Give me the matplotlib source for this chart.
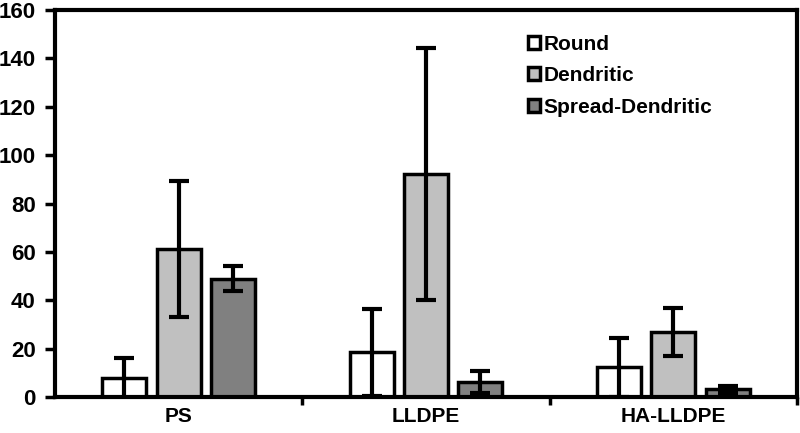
import numpy as np
import matplotlib.pyplot as plt

plt.rcParams['font.family'] = ['Liberation Sans', 'DejaVu Sans']
plt.rcParams['font.weight'] = 'bold'

categories = ['PS', 'LLDPE', 'HA-LLDPE']
series = ['Round', 'Dendritic', 'Spread-Dendritic']
round_vals = [7.8, 18.5, 12.3]
round_err = [8.3, 17.9, 12.1]
dendritic_vals = [61.2, 92.3, 27.0]
dendritic_err = [28.2, 52.0, 10.0]
spread_vals = [49.0, 6.3, 3.2]
spread_err = [5.2, 4.5, 1.4]
colors = ['#ffffff', '#c0c0c0', '#808080']

fig = plt.figure(figsize=(8, 4.33), dpi=100)
ax = fig.add_axes([0.069, 0.083, 0.927, 0.894])

x = np.arange(len(categories))
w = 0.178
step = 0.22
vals = [round_vals, dendritic_vals, spread_vals]
errs = [round_err, dendritic_err, spread_err]
for i in range(3):
	ax.bar(x + (i - 1) * step, vals[i], w, color=colors[i], edgecolor='black',
		linewidth=2.5, label=series[i], zorder=2,
		yerr=errs[i], error_kw=dict(ecolor='black', elinewidth=3, capsize=7, capthick=3, zorder=3))

ax.set_xlim(-0.5, 2.5)
ax.set_ylim(0, 160)
ax.set_yticks(range(0, 161, 20))
ax.set_xticks(x)
ax.set_xticklabels(categories)
ax.set_xticks([0.5, 1.5, 2.5], minor=True)
ax.tick_params(axis='x', which='major', length=0, pad=7, labelsize=15)
ax.tick_params(axis='x', which='minor', length=6, width=2.5, direction='out')
ax.tick_params(axis='y', length=7, width=2.5, labelsize=16, pad=7)
for s in ax.spines.values():
	s.set_linewidth(3)
	s.set_zorder(5)

leg = ax.legend(loc='upper left', bbox_to_anchor=(0.612, 0.985), frameon=False,
	fontsize=15, handlelength=0.6, handleheight=0.6, handletextpad=0.15, labelspacing=0.6)

plt.savefig('out.png', dpi=100)
